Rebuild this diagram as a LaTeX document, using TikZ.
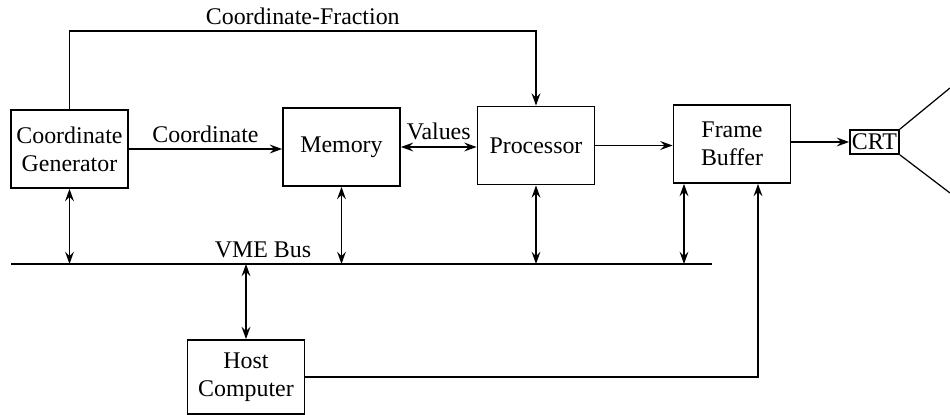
\documentclass[tikz,border=0pt]{standalone}
\usepackage{fontspec}
\setmainfont{Liberation Serif}
\usetikzlibrary{positioning,arrows.meta,calc}
\tikzset{
  >={Stealth[length=7pt,width=5pt,inset=2.5pt]},
  shorten >=0pt,
}

\begin{document}
\begin{tikzpicture}[
  x=0.02cm, y=-0.02cm,
  line width=0.9pt,
  font=\fontsize{13.6}{16}\selectfont,
  box/.style={draw, line width=1pt, align=center, inner sep=0pt,
    minimum width=2.34cm, minimum height=1.56cm},
  bus/.style={line width=1.6pt}
]
\useasboundingbox (0,0) rectangle (950,415);
\node[box] (gen) at (69.5,149) {Coordinate\\Generator};
\node[box] (mem) at (341.5,147) {Memory};
\node[box] (proc) at (536,145.5) {Processor};
\node[box] (fb) at (732,144) {Frame\\Buffer};
\node[box, minimum width=0.98cm, minimum height=0.48cm] (crt) at (874.5,142) {CRT};
\node[box, minimum height=1.48cm] (host) at (246,377) {Host\\Computer};
% bus
\coordinate (busL) at (11,264);
\coordinate (busR) at (712,264);
\draw[bus] (busL) -- (busR);
\node (vme) at (263,250) {VME Bus};
% data path
\draw[->] (gen.east) -- (gen.east -| mem.west) node[midway, above] {Coordinate};
\draw[<->] (mem.east) -- (mem.east -| proc.west) node[midway, above] {Values};
\draw[->] (proc.east) -- (proc.east -| fb.west);
\draw[->] (fb.east |- crt.west) -- (crt.west);
\draw[->] (gen.north) -- ++(0,-78) -| (proc.north)
  node[pos=0.25, above] {Coordinate-Fraction};
% screen
\coordinate (scrT) at (950,88);
\coordinate (scrB) at (950,193);
\draw[line width=0.7pt] (crt.north east) -- (scrT);
\draw[line width=0.7pt] (crt.south east) -- (scrB);
% bus connections
\draw[<->] (gen.south) -- (gen.south |- busL);
\draw[<->] (mem.south) -- (mem.south |- busL);
\draw[<->] (proc.south) -- (proc.south |- busL);
\draw[<->] ([xshift=-0.96cm]fb.south) -- ([xshift=-0.96cm]fb.south |- busR);
\draw[<->] (host.north) -- (host.north |- busL);
\draw[->] (host.east) -| ([xshift=0.52cm]fb.south);
\end{tikzpicture}
\end{document}
